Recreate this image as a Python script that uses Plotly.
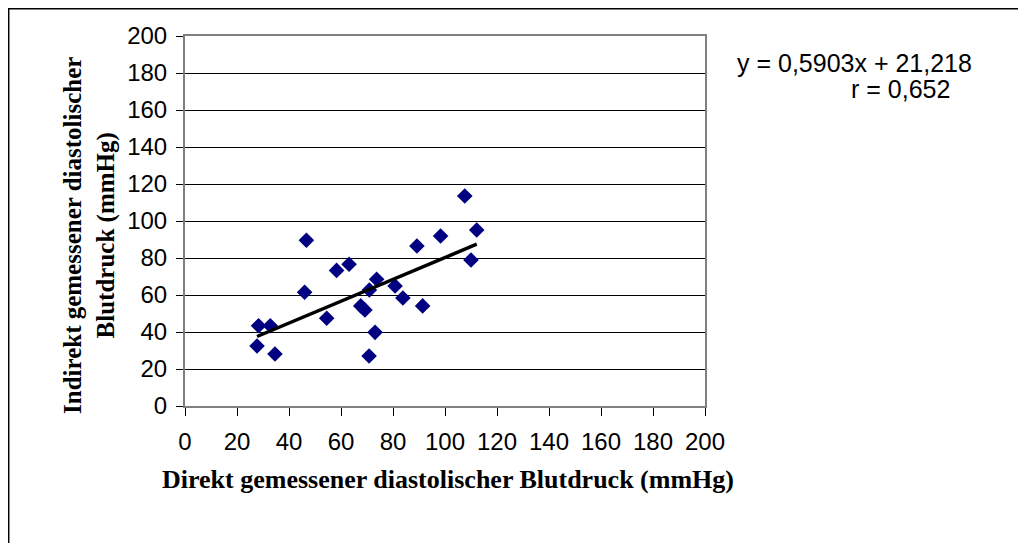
import plotly.graph_objects as go

# Data
direkt = [28.3, 32.8, 27.7, 34.6, 46.0, 46.7, 54.5, 58.3, 63.1, 67.6, 69.2, 70.9,
          73.7, 73.1, 70.8, 80.8, 83.8, 91.4, 89.2, 98.3, 107.6, 110.0, 112.2]
indirekt = [43.4, 43.4, 32.4, 28.1, 61.5, 89.6, 47.4, 73.3, 76.6, 54.1, 51.9, 62.7,
            68.5, 39.8, 27.0, 64.9, 58.4, 54.1, 86.5, 91.9, 113.5, 78.9, 95.1]
slope = 0.5903
intercept = 21.218
r_value = "0,652"
ticks = [0, 20, 40, 60, 80, 100, 120, 140, 160, 180, 200]

x_fit = [min(direkt), max(direkt)]
y_fit = [slope * v + intercept for v in x_fit]

fig = go.Figure()
fig.add_trace(go.Scatter(x=direkt, y=indirekt, mode="markers",
                         marker=dict(symbol="diamond", size=12, color="#000080",
                                     line=dict(width=0)),
                         showlegend=False, cliponaxis=False))
fig.add_trace(go.Scatter(x=x_fit, y=y_fit, mode="lines",
                         line=dict(color="black", width=3.5), showlegend=False))

# page body has an 8px margin; work in reference pixel coords minus offset
OFF = 8
W, H = 1026 - OFF, 543 - OFF
PL, PR, PT, PB = 185 - OFF, 705 - OFF, 36 - OFF, 406 - OFF
L, R, T, B = PL, W - PR, PT, H - PB
pw, ph = PR - PL, PB - PT


def px(x):
    return (x - OFF - PL) / pw


def py(y):
    return (PB - (y - OFF)) / ph


axis_font = dict(family="Liberation Sans, Arial", size=24, color="black")
fig.update_xaxes(range=[0, 200], tickvals=ticks, ticks="outside", ticklen=8,
                 tickcolor="black", showline=True, linecolor="#808080", linewidth=2,
                 mirror=True, showgrid=False, zeroline=False, tickfont=axis_font,
                 ticklabelstandoff=5)
fig.update_yaxes(range=[0, 200], tickvals=ticks, ticks="outside", ticklen=7,
                 tickcolor="black", showline=True, linecolor="#808080", linewidth=2,
                 mirror=True, showgrid=True, gridcolor="black", gridwidth=1.2,
                 zeroline=False, tickfont=axis_font, ticklabelstandoff=4)

serif = "Liberation Serif, Times New Roman"
annotations = [
    dict(text="<b>Direkt gemessener diastolischer Blutdruck (mmHg)</b>",
         xref="paper", yref="paper", x=px(448), y=py(479),
         xanchor="center", yanchor="middle", showarrow=False,
         font=dict(family=serif, size=26, color="black")),
    dict(text="<b>Indirekt gemessener diastolischer<br>Blutdruck (mmHg)</b>",
         xref="paper", yref="paper", x=px(89), y=py(236),
         xanchor="center", yanchor="middle", showarrow=False, textangle=-90,
         font=dict(family=serif, size=25, color="black")),
    dict(text="y = 0,5903x + 21,218", xref="paper", yref="paper",
         x=px(735), y=py(63), xanchor="left",
         yanchor="middle", showarrow=False,
         font=dict(family="Liberation Sans, Arial", size=25, color="black")),
    dict(text="r = " + r_value, xref="paper", yref="paper",
         x=px(849), y=py(89), xanchor="left",
         yanchor="middle", showarrow=False,
         font=dict(family="Liberation Sans, Arial", size=25, color="black")),
]

fig.update_layout(
    width=W, height=H,
    margin=dict(l=L, r=R, t=T, b=B),
    paper_bgcolor="white", plot_bgcolor="white",
    annotations=annotations,
    shapes=[dict(type="rect", xref="paper", yref="paper",
                 x0=px(8.7), x1=px(1060),
                 y0=py(600), y1=py(8.7),
                 line=dict(color="black", width=1.5), layer="below")],
)

fig.write_html("out.html")
